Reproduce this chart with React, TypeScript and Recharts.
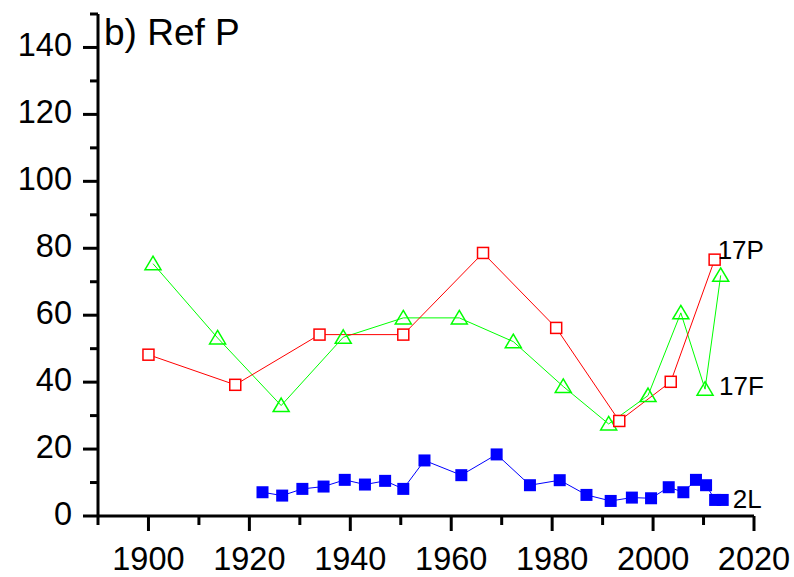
import React from 'react';
import { LineChart, Line, XAxis, YAxis, LabelList } from 'recharts';

const years17P = [1900, 1917.2, 1933.9, 1950.5, 1966.3, 1980.8, 1993.3, 2003.5, 2012.2];
const values17P = [48.2, 39.2, 54.2, 54.2, 78.6, 56.2, 28.4, 40.1, 76.6];

const years17F = [1900.9, 1913.7, 1926.3, 1938.6, 1950.5, 1961.6, 1972.3, 1982.2, 1991.2, 1999, 2005.5, 2010.3, 2013.4];
const values17F = [75.4, 53.2, 33.0, 53.4, 59.2, 59.2, 52.1, 38.7, 27.5, 36.0, 60.7, 37.9, 71.9];

const years2L = [1922.6, 1926.5, 1930.5, 1934.7, 1938.9, 1942.9, 1946.9, 1950.5, 1954.7, 1962, 1969, 1975.6, 1981.5, 1986.8, 1991.6, 1995.8, 1999.6, 2003.1, 2006, 2008.5, 2010.5, 2012.3, 2013.8];
const values2L = [7.1, 6.1, 8.1, 8.8, 10.8, 9.4, 10.5, 8.1, 16.6, 12.2, 18.4, 9.2, 10.7, 6.3, 4.5, 5.5, 5.3, 8.6, 7.1, 10.8, 9.2, 4.8, 4.8];

const xTicks = [1890, 1900, 1910, 1920, 1930, 1940, 1950, 1960, 1970, 1980, 1990, 2000, 2010, 2020];
const xMajor = [1900, 1920, 1940, 1960, 1980, 2000, 2020];
const yTicks = [0, 10, 20, 30, 40, 50, 60, 70, 80, 90, 100, 110, 120, 130, 140, 150];
const yMajor = [0, 20, 40, 60, 80, 100, 120, 140];

const title = 'b) Ref P';
const seriesNames = { p: '17P', f: '17F', l: '2L' };

const zip = (xs: number[], ys: number[]) => xs.map((x, i) => ({ year: x, v: ys[i] }));
const data17P = zip(years17P, values17P);
const data17F = zip(years17F, values17F);
const data2L = zip(years2L, values2L);

const FONT = 'Arial, "Liberation Sans", sans-serif';

const XTick = (props: any) => {
  const { x, y, payload } = props;
  const major = xMajor.includes(payload.value);
  return (
    <g>
      <line x1={x} x2={x} y1={y} y2={y + (major ? 15 : 9)} stroke="#000" strokeWidth={3} />
      {major && (
        <text x={x} y={y + 54} textAnchor="middle" fontSize={32.5} fontFamily={FONT} fill="#000">
          {payload.value}
        </text>
      )}
    </g>
  );
};

const YTick = (props: any) => {
  const { x, y, payload } = props;
  const major = yMajor.includes(payload.value);
  return (
    <g>
      <line x1={x} x2={x - (major ? 15 : 8)} y1={y} y2={y} stroke="#000" strokeWidth={3} />
      {major && (
        <text x={x - 26} y={y + 8.5} textAnchor="end" fontSize={32.5} fontFamily={FONT} fill="#000">
          {payload.value}
        </text>
      )}
    </g>
  );
};

const squareOpen = (p: any) => (
  <rect key={`p${p.index}`} x={p.cx - 5.5} y={p.cy - 5.5} width={11} height={11} fill="#fff" stroke="#ff0000" strokeWidth={1.5} />
);
const triOpen = (p: any) => (
  <polygon
    key={`f${p.index}`}
    points={`${p.cx},${p.cy - 7.5} ${p.cx + 8},${p.cy + 6} ${p.cx - 8},${p.cy + 6}`}
    fill="none"
    stroke="#00ff00"
    strokeWidth={1.5}
  />
);
const squareFilled = (p: any) => (
  <rect key={`l${p.index}`} x={p.cx - 6} y={p.cy - 6} width={12} height={12} fill="#0000ff" stroke="none" />
);

const makeLabel = (idx: number, text: string, dx: number, dy: number) => (props: any) => {
  if (props.index !== idx) return null;
  return (
    <text x={props.x + dx} y={props.y + dy} fontSize={26} fontFamily={FONT} fill="#000">
      {text}
    </text>
  );
};

export default function App() {
  return (
    <div style={{ position: 'absolute', left: 0, top: 0, width: 794, height: 577, background: '#fff' }}>
      <LineChart width={794} height={577} margin={{ top: 14, right: 40, bottom: 0, left: 0 }}>
        <XAxis
          type="number"
          dataKey="year"
          domain={[1890, 2020]}
          ticks={xTicks}
          interval={0}
          height={61}
          tickSize={0}
          tickMargin={0}
          tickLine={false}
          axisLine={{ stroke: '#000', strokeWidth: 3 }}
          tick={<XTick />}
          allowDataOverflow
        />
        <YAxis
          type="number"
          domain={[0, 150]}
          ticks={yTicks}
          interval={0}
          width={98}
          tickSize={0}
          tickMargin={0}
          tickLine={false}
          axisLine={{ stroke: '#000', strokeWidth: 3 }}
          tick={<YTick />}
          allowDataOverflow
        />
        <Line data={data17F} dataKey="v" stroke="#00ff00" strokeWidth={1} dot={triOpen} isAnimationActive={false}>
          <LabelList dataKey="v" content={makeLabel(11, seriesNames.f, 14, 6)} />
        </Line>
        <Line data={data17P} dataKey="v" stroke="#ff0000" strokeWidth={1} dot={squareOpen} isAnimationActive={false}>
          <LabelList dataKey="v" content={makeLabel(8, seriesNames.p, 3, -1)} />
        </Line>
        <Line data={data2L} dataKey="v" stroke="#0000ff" strokeWidth={1} dot={squareFilled} isAnimationActive={false}>
          <LabelList dataKey="v" content={makeLabel(22, seriesNames.l, 10, 8)} />
        </Line>
        <text x={104} y={45} fontSize={37} fontFamily={FONT} fill="#000">
          {title}
        </text>
      </LineChart>
    </div>
  );
}
